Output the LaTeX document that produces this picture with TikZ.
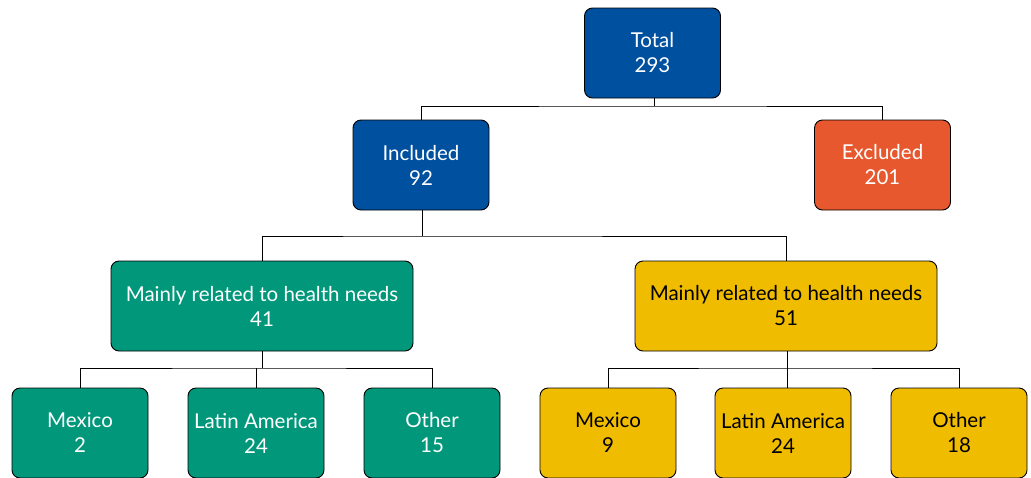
\documentclass[tikz,border=0pt]{standalone}
\usepackage{fontspec}
\setmainfont{Lato}
\begin{document}
\begin{tikzpicture}[x=1pt,y=-1pt,
  box/.style={draw=black,line width=0.9pt,rounded corners=8pt,minimum height=90pt,align=center,inner sep=1pt,font=\fontsize{20.5}{25}\selectfont},
  sbox/.style={box,minimum width=136pt},
  wbox/.style={box,minimum width=302pt},
  blue/.style={fill=cblue,text=white},
  orng/.style={fill=corange,text=white},
  grn/.style={fill=cgreen,text=white},
  yel/.style={fill=cyellow,text=black},
  conn/.style={draw=black,line width=1pt}]
\definecolor{cblue}{HTML}{0050A0}
\definecolor{corange}{HTML}{E8582E}
\definecolor{cgreen}{HTML}{00977A}
\definecolor{cyellow}{HTML}{F0BC00}
\useasboundingbox (0,0) rectangle (1031,477);
\node[sbox,blue] (total) at (652.5,53) {Total\\293};
\node[sbox,blue] (incl) at (421,165) {Included\\92};
\node[sbox,orng] (excl) at (882.5,165) {Excluded\\201};
\node[wbox,grn] (mg) at (262,306) {Mainly related to health needs\\41};
\node[wbox,yel] (my) at (786,306) {Mainly related to health needs\\51};
\node[sbox,grn] (g1) at (80,433) {Mexico\\2};
\node[sbox,grn] (g2) at (256,433) {Latin America\\24};
\node[sbox,grn] (g3) at (432,433) {Other\\15};
\node[sbox,yel] (y1) at (608,433) {Mexico\\9};
\node[sbox,yel] (y2) at (783,433) {Latin America\\24};
\node[sbox,yel] (y3) at (959,433) {Other\\18};
\coordinate (j1) at (654,106);
\coordinate (j2) at (422,236);
\coordinate (j3) at (262,368);
\coordinate (j4) at (787,368);
\draw[conn] (total.south -| j1) -- (j1);
\draw[conn] (incl.north) |- (j1) -| (excl.north);
\draw[conn] (incl.south -| j2) -- (j2);
\draw[conn] (mg.north) |- (j2) -| (my.north);
\draw[conn] (mg.south) -- (j3);
\draw[conn] (g1.north) |- (j3) -| (g3.north);
\draw[conn] (g2.north) -- (g2.north |- j3);
\draw[conn] (my.south -| j4) -- (j4);
\draw[conn] (y1.north) |- (j4) -| (y3.north);
\draw[conn] (y2.north -| j4) -- (j4);
\end{tikzpicture}
\end{document}
